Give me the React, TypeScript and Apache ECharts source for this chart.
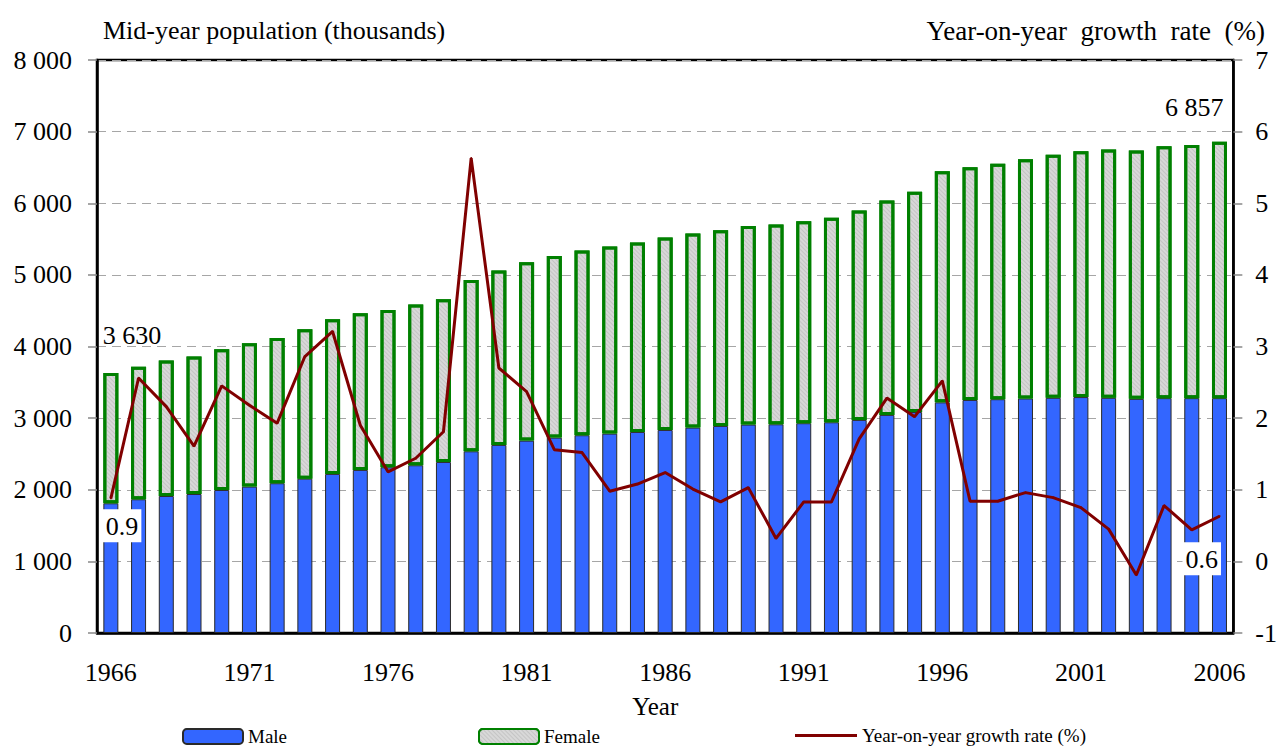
import React, { useEffect, useRef } from "react";
import * as echarts from "echarts";

const years: string[] = [
  "1966", "1967", "1968", "1969", "1970", "1971", "1972", "1973", "1974", "1975",
  "1976", "1977", "1978", "1979", "1980", "1981", "1982", "1983", "1984", "1985",
  "1986", "1987", "1988", "1989", "1990", "1991", "1992", "1993", "1994", "1995",
  "1996", "1997", "1998", "1999", "2000", "2001", "2002", "2003", "2004", "2005", "2006",
];

// Mid-year population, thousands
const maleValues: number[] = [
  1811, 1867, 1913, 1941, 1997, 2044, 2091, 2155, 2221, 2277,
  2314, 2342, 2388, 2537, 2626, 2686, 2728, 2761, 2784, 2807,
  2835, 2868, 2891, 2910, 2914, 2929, 2942, 2975, 3045, 3085,
  3220, 3254, 3264, 3274, 3284, 3294, 3284, 3269, 3279, 3279, 3279,
];

const femaleValues: number[] = [
  1819, 1852, 1890, 1918, 1965, 2002, 2029, 2086, 2160, 2188,
  2197, 2243, 2272, 2393, 2434, 2491, 2537, 2579, 2611, 2644,
  2686, 2709, 2733, 2774, 2789, 2821, 2854, 2923, 2992, 3077,
  3226, 3247, 3287, 3342, 3392, 3432, 3467, 3467, 3517, 3536, 3578,
];

// Year-on-year growth rate (%)
const growthValues: number[] = [
  0.88, 2.56, 2.16, 1.61, 2.45, 2.18, 1.93, 2.86, 3.21, 1.9,
  1.25, 1.44, 1.81, 5.63, 2.7, 2.37, 1.56, 1.52, 0.98, 1.08,
  1.24, 1.01, 0.83, 1.03, 0.32, 0.83, 0.83, 1.71, 2.28, 2.02,
  2.52, 0.84, 0.84, 0.96, 0.89, 0.75, 0.45, -0.19, 0.78, 0.44, 0.63,
];

const leftAxisTitle = "Mid-year population (thousands)";
const rightAxisTitle = "Year-on-year  growth  rate  (%)";
const xAxisTitle = "Year";
const seriesNames = ["Male", "Female", "Year-on-year growth rate (%)"];

const FONT = "'Liberation Serif', 'Times New Roman', serif";

const fmtThousands = (v: number): string =>
  String(v).replace(/\B(?=(\d{3})+(?!\d))/g, " ");

export default function App() {
  const ref = useRef<HTMLDivElement>(null);

  useEffect(() => {
    if (!ref.current) return;
    const chart = echarts.init(ref.current, null, { renderer: "svg" });
    const last = years.length - 1;

    const femaleData = femaleValues.map((v, i) => {
      if (i === 0) {
        return {
          value: v,
          label: {
            show: true,
            formatter: fmtThousands(maleValues[i] + femaleValues[i]),
            position: [-0.5, -51],
            fontFamily: FONT,
            fontSize: 26,
            color: "#000",
          },
        };
      }
      if (i === last) {
        return {
          value: v,
          label: {
            show: true,
            formatter: fmtThousands(maleValues[i] + femaleValues[i]),
            position: [-47, -47],
            fontFamily: FONT,
            fontSize: 26,
            color: "#000",
          },
        };
      }
      return v;
    });

    const growthData = growthValues.map((v, i) => {
      if (i === 0 || i === last) {
        return {
          value: v,
          label: {
            show: true,
            formatter: v.toFixed(1),
            position: i === 0 ? [-7, 12] : [-36, 27],
            fontFamily: FONT,
            fontSize: 26,
            color: "#000",
            backgroundColor: "#fff",
            padding: [4, 3, 3, 3],
          },
        };
      }
      return v;
    });

    const legendText = { fontFamily: FONT, fontSize: 19, lineHeight: 19, color: "#000" };

    chart.setOption({
      animation: false,
      backgroundColor: "#fff",
      title: [
        {
          text: leftAxisTitle,
          left: 98,
          top: 12,
          textStyle: { fontFamily: FONT, fontSize: 26, fontWeight: "normal", color: "#000" },
        },
        {
          text: rightAxisTitle,
          right: 10,
          top: 12,
          textStyle: { fontFamily: FONT, fontSize: 27, fontWeight: "normal", color: "#000" },
        },
      ],
      legend: [
        {
          data: [seriesNames[0]],
          left: 182,
          top: 727,
          padding: 0,
          itemWidth: 60,
          itemHeight: 15,
          itemGap: 0,
          selectedMode: false,
          textStyle: legendText,
        },
        {
          data: [seriesNames[1]],
          left: 478,
          top: 727,
          padding: 0,
          itemWidth: 60,
          itemHeight: 15,
          selectedMode: false,
          textStyle: legendText,
        },
        {
          data: [seriesNames[2]],
          left: 795,
          top: 726,
          padding: 0,
          itemWidth: 62,
          itemHeight: 3,
          icon: "rect",
          selectedMode: false,
          textStyle: legendText,
        },
      ],
      grid: {
        left: 97,
        right: 44,
        top: 60,
        bottom: 113,
        show: true,
        borderColor: "#000",
        borderWidth: 2.5,
        backgroundColor: "transparent",
      },
      xAxis: {
        type: "category",
        data: years,
        boundaryGap: true,
        name: xAxisTitle,
        nameLocation: "middle",
        nameGap: 61,
        nameTextStyle: { fontFamily: FONT, fontSize: 25, color: "#000", padding: [0, 20, 0, 0] },
        axisLine: { show: true, lineStyle: { color: "#000", width: 2.5 } },
        axisTick: { show: false },
        axisLabel: {
          interval: 4,
          margin: 26,
          fontFamily: FONT,
          fontSize: 26,
          color: "#000",
        },
        splitLine: { show: false },
      },
      yAxis: [
        {
          type: "value",
          min: 0,
          max: 8000,
          interval: 1000,
          position: "left",
          axisLine: { show: true, lineStyle: { color: "#000", width: 2.5 } },
          axisTick: { show: true, inside: false, length: 9, lineStyle: { color: "#888", width: 1.5 } },
          axisLabel: {
            margin: 25,
            fontFamily: FONT,
            fontSize: 26,
            color: "#000",
            formatter: (v: number) => fmtThousands(v),
          },
          splitLine: {
            show: true,
            lineStyle: { color: "#a6a6a6", width: 1.2, type: [9, 6] },
          },
        },
        {
          type: "value",
          min: -1,
          max: 7,
          interval: 1,
          position: "right",
          axisLine: { show: true, lineStyle: { color: "#000", width: 2.5 } },
          axisTick: { show: true, inside: false, length: 9, lineStyle: { color: "#888", width: 1.5 } },
          axisLabel: {
            margin: 22,
            fontFamily: FONT,
            fontSize: 26,
            color: "#000",
          },
          splitLine: { show: false },
        },
      ],
      series: [
        {
          name: seriesNames[0],
          type: "bar",
          stack: "pop",
          data: maleValues,
          barWidth: 15,
          itemStyle: { color: "#3366ff", borderColor: "#2a2a2a", borderWidth: 1 },
          z: 2,
        },
        {
          name: seriesNames[1],
          type: "bar",
          stack: "pop",
          data: femaleData,
          barWidth: 15,
          itemStyle: {
            color: "#d8d8d8",
            borderColor: "#008000",
            borderWidth: 3,
            decal: {
              symbol: "rect",
              symbolSize: 1,
              color: "rgba(160,160,160,0.35)",
              dashArrayX: [1, 0],
              dashArrayY: [1, 2],
              rotation: Math.PI / 4,
            },
          },
          z: 3,
        },
        {
          name: seriesNames[2],
          type: "line",
          yAxisIndex: 1,
          data: growthData,
          symbol: "circle",
          symbolSize: 2,
          showSymbol: true,
          itemStyle: { color: "#800000" },
          lineStyle: { color: "#800000", width: 3 },
          z: 5,
        },
      ],
    });

    return () => {
      chart.dispose();
    };
  }, []);

  return (
    <div
      ref={ref}
      style={{ position: "absolute", left: 0, top: 0, width: 1280, height: 746 }}
    />
  );
}
